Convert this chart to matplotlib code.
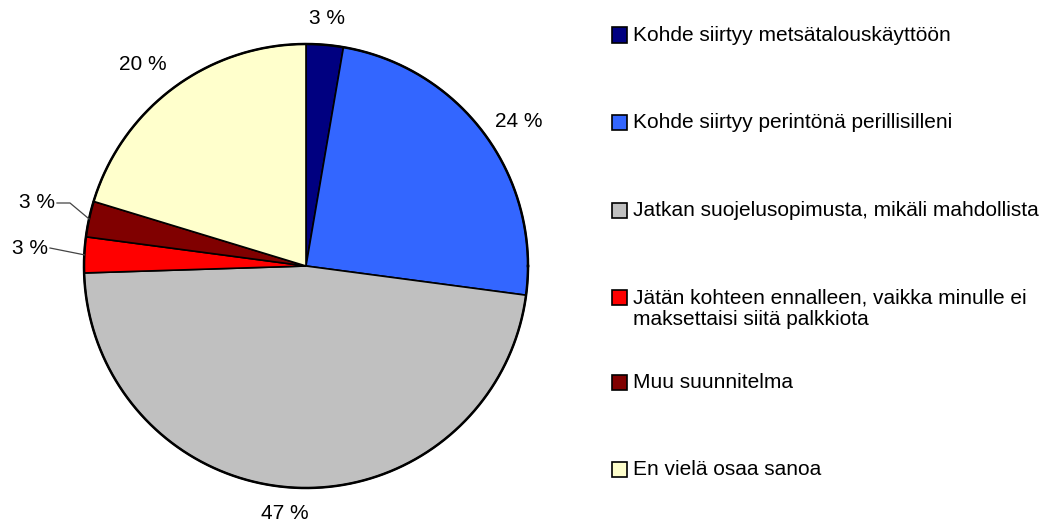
import numpy as np
import matplotlib
matplotlib.use("Agg")
import matplotlib.pyplot as plt
from matplotlib.patches import Rectangle

# DATA
categories = [
    "Kohde siirtyy metsätalouskäyttöön",
    "Kohde siirtyy perintönä perillisilleni",
    "Jatkan suojelusopimusta, mikäli mahdollista",
    "Jätän kohteen ennalleen, vaikka minulle ei\nmaksettaisi siitä palkkiota",
    "Muu suunnitelma",
    "En vielä osaa sanoa",
]
shares = [2.7, 24.4, 47.4, 2.6, 2.6, 20.3]
colors = ["#000080", "#3366FF", "#C0C0C0", "#FF0000", "#800000", "#FFFFCC"]
labels = [f"{int(round(v))} %" for v in shares]

plt.rcParams["font.family"] = ["Liberation Sans", "DejaVu Sans"]
FS = 15

W, H = 1049, 525
fig = plt.figure(figsize=(W / 100, H / 100), dpi=100)

# pie axes: centre (306, 266) px, radius 222 px
cx, cy, r = 306, 266, 222
ax = fig.add_axes([(cx - r) / W, (H - cy - r) / H, 2 * r / W, 2 * r / H])
wedges, _ = ax.pie(shares, colors=colors, startangle=90, counterclock=False,
                   radius=1, wedgeprops=dict(edgecolor="black", linewidth=1.2))
ax.set_xlim(-1, 1)
ax.set_ylim(-1, 1)
ax.set_aspect("equal")
ax.axis("off")

# outer outline a bit heavier
theta = np.linspace(0, 2 * np.pi, 400)
ax.plot(np.cos(theta), np.sin(theta), color="black", lw=1.8, clip_on=False)

# value labels (mid-angle, with small pixel nudges like Excel)
dist = [1.12, 1.17, 1.12, None, None, 1.16]
nudge = [(0, 0), (4, 9), (-9, -1), None, None, (-10, 5)]
for i, w in enumerate(wedges):
    mid = np.deg2rad((w.theta1 + w.theta2) / 2)
    if dist[i] is not None:
        dx, dy = nudge[i]
        ax.text(dist[i] * np.cos(mid) + dx / r, dist[i] * np.sin(mid) - dy / r,
                labels[i], ha="center", va="center", fontsize=FS)


def px(x, y):
    return (x - cx) / r, (cy - y) / r


# small slices on the left with leader lines
for i, (tx, ty, elbow) in zip([4, 3], [(55, 203, (70, 203)), (48, 248, None)]):
    w = wedges[i]
    mid = np.deg2rad((w.theta1 + w.theta2) / 2)
    ex, ey = np.cos(mid), np.sin(mid)
    x0, y0 = px(tx + 2, ty)
    pts = [(x0, y0)]
    if elbow is not None:
        pts.append(px(*elbow))
    pts.append((ex, ey))
    xs, ys = zip(*pts)
    ax.plot(xs, ys, color="#444444", lw=0.9, clip_on=False)
    ax.text(x0 - 0.01, y0, labels[i], ha="right", va="center", fontsize=FS)

# legend drawn by hand (uneven Excel-style spacing)
rows = [35, 122, 210, 297, 382, 469]
for c, lab, y in zip(colors, categories, rows):
    fig.patches.append(Rectangle((612 / W, (H - y - 7.5) / H), 15 / W, 15 / H,
                                 transform=fig.transFigure, facecolor=c,
                                 edgecolor="black", linewidth=1.2))
    fig.text(633 / W, (H - y + 9) / H, lab, ha="left", va="top",
             fontsize=FS, linespacing=1.2)

fig.savefig("out.png", dpi=100)
